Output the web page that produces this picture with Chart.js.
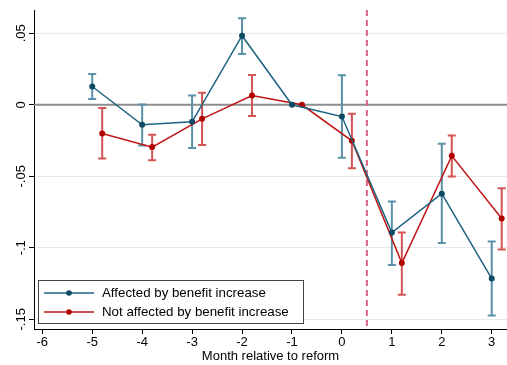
<!DOCTYPE html>
<html>
<head>
<meta charset="utf-8">
<script src="https://cdn.jsdelivr.net/npm/chart.js@4/dist/chart.umd.min.js"></script>
<style>
  html, body { margin: 0; padding: 0; background: #fff; }
  #wrap { width: 507px; height: 365px; }
</style>
</head>
<body>
<div id="wrap"><canvas id="c" width="507" height="365"></canvas></div>
<script>
// Event-study estimates by month relative to the reform
const months = [-5, -4, -3, -2, -1, 0, 1, 2, 3];
const redOffset = 0.2; // second series drawn slightly to the right

const affectedEst   = [0.0128, -0.0140, -0.0119, 0.0483, 0.0000, -0.0082, -0.0893, -0.0622, -0.1215];
const affectedLow   = [0.0040, -0.0285, -0.0303, 0.0355, null,   -0.0370, -0.1121, -0.0967, -0.1473];
const affectedHigh  = [0.0215,  0.0002,  0.0065, 0.0606, null,    0.0207, -0.0676, -0.0273, -0.0956];

const notAffEst     = [-0.0201, -0.0296, -0.0098, 0.0065, 0.0000, -0.0252, -0.1107, -0.0357, -0.0795];
const notAffLow     = [-0.0375, -0.0387, -0.0282, -0.0079, null,  -0.0443, -0.1329, -0.0501, -0.1012];
const notAffHigh    = [-0.0023, -0.0210,  0.0084,  0.0208, null,  -0.0063, -0.0893, -0.0215, -0.0583];

const xTicks = [-6, -5, -4, -3, -2, -1, 0, 1, 2, 3];
const yTicks = [-0.15, -0.1, -0.05, 0, 0.05];
const yTickLabels = ['-.15', '-.1', '-.05', '0', '.05'];
const reformLine = 0.5;

const seriesNames = ['Affected by benefit increase', 'Not affected by benefit increase'];
const FONT = '"Liberation Sans", Arial, Helvetica, sans-serif';

const blue = { line: '#1d6382', point: '#0d4a66', bar: '#5a90a8' };
const red  = { line: '#c01414', point: '#b00000', bar: '#d35454' };

const toPoints = (xs, ys, off) => xs.map((x, i) => ({ x: x + off, y: ys[i] }));

// Reference lines, CIs, rotated y labels and the legend box
const decorations = {
  id: 'decorations',
  beforeDatasetsDraw(chart) {
    const { ctx, chartArea: a, scales: { x, y } } = chart;
    ctx.save();
    // zero line
    const y0 = y.getPixelForValue(0);
    ctx.strokeStyle = '#8c8c8c';
    ctx.lineWidth = 2;
    ctx.beginPath(); ctx.moveTo(a.left, y0); ctx.lineTo(a.right, y0); ctx.stroke();
    // reform line
    const xr = x.getPixelForValue(reformLine);
    ctx.strokeStyle = '#db6485';
    ctx.lineWidth = 2;
    ctx.setLineDash([6, 4]);
    ctx.beginPath(); ctx.moveTo(xr, a.top); ctx.lineTo(xr, a.bottom); ctx.stroke();
    ctx.setLineDash([]);
    // confidence intervals
    const caps = (off, lo, hi, col) => {
      ctx.strokeStyle = col;
      ctx.lineWidth = 2;
      months.forEach((m, i) => {
        if (lo[i] == null) return;
        const px = x.getPixelForValue(m + off);
        const pl = y.getPixelForValue(lo[i]);
        const ph = y.getPixelForValue(hi[i]);
        ctx.beginPath();
        ctx.moveTo(px, pl); ctx.lineTo(px, ph);
        ctx.moveTo(px - 4, pl); ctx.lineTo(px + 4, pl);
        ctx.moveTo(px - 4, ph); ctx.lineTo(px + 4, ph);
        ctx.stroke();
      });
    };
    caps(0, affectedLow, affectedHigh, blue.bar);
    caps(redOffset, notAffLow, notAffHigh, red.bar);
    ctx.restore();
  },
  afterDraw(chart) {
    const { ctx, scales: { y } } = chart;
    ctx.save();
    // vertical y tick labels
    ctx.fillStyle = '#000';
    ctx.font = '13px ' + FONT;
    ctx.textAlign = 'center';
    ctx.textBaseline = 'middle';
    yTicks.forEach((v, i) => {
      const py = y.getPixelForValue(v);
      ctx.save();
      ctx.translate(21, py);
      ctx.rotate(-Math.PI / 2);
      ctx.fillText(yTickLabels[i], 0, 0);
      ctx.restore();
    });
    // legend
    const bx = 38.5, by = 280.5, bw = 265, bh = 43;
    ctx.fillStyle = '#fff';
    ctx.fillRect(bx, by, bw, bh);
    ctx.strokeStyle = '#444';
    ctx.lineWidth = 1;
    ctx.strokeRect(bx, by, bw, bh);
    const rows = [{ c: blue, y: 293 }, { c: red, y: 312 }];
    rows.forEach((r, i) => {
      ctx.strokeStyle = r.c.line;
      ctx.lineWidth = 1.5;
      ctx.beginPath(); ctx.moveTo(44, r.y); ctx.lineTo(94, r.y); ctx.stroke();
      ctx.fillStyle = r.c.point;
      ctx.beginPath(); ctx.arc(69, r.y, 2.8, 0, Math.PI * 2); ctx.fill();
      ctx.fillStyle = '#000';
      ctx.textAlign = 'left';
      ctx.font = '13.3px ' + FONT;
      ctx.fillText(chart.data.datasets[i].label, 102, r.y);
    });
    ctx.restore();
  }
};

new Chart(document.getElementById('c'), {
  type: 'line',
  data: {
    datasets: [
      {
        label: seriesNames[0],
        data: toPoints(months, affectedEst, 0),
        borderColor: blue.line,
        backgroundColor: blue.point,
        pointBackgroundColor: blue.point,
        pointBorderWidth: 0,
        pointRadius: 3,
        borderWidth: 1.5,
        tension: 0
      },
      {
        label: seriesNames[1],
        data: toPoints(months, notAffEst, redOffset),
        borderColor: red.line,
        backgroundColor: red.point,
        pointBackgroundColor: red.point,
        pointBorderWidth: 0,
        pointRadius: 3,
        borderWidth: 1.5,
        tension: 0
      }
    ]
  },
  options: {
    responsive: false,
    animation: false,
    layout: { autoPadding: false, padding: { top: 10, right: 0, left: 0, bottom: 0 } },
    plugins: { legend: { display: false }, tooltip: { enabled: false } },
    scales: {
      x: {
        type: 'linear',
        min: -6.166,
        max: 3.306,
        afterBuildTicks: s => { s.ticks = xTicks.map(v => ({ value: v })); },
        afterFit: s => { s.height = 36; s.paddingLeft = 0; s.paddingRight = 0; },
        grid: { display: true, drawOnChartArea: false, tickLength: 5, tickColor: '#000', tickWidth: 1 },
        border: { color: '#000', width: 1 },
        ticks: {
          color: '#000',
          font: { family: FONT, size: 13 },
          padding: 1,
          maxRotation: 0,
          callback: v => String(v)
        },
        title: {
          display: true,
          text: 'Month relative to reform',
          color: '#000',
          font: { family: FONT, size: 13 },
          padding: { top: 0, bottom: 1 }
        }
      },
      y: {
        type: 'linear',
        min: -0.1568,
        max: 0.0663,
        afterBuildTicks: s => { s.ticks = yTicks.map(v => ({ value: v })); },
        afterFit: s => { s.width = 34; },
        grid: {
          color: '#e3ecf0',
          lineWidth: 1,
          tickLength: 5,
          tickColor: '#000',
          tickWidth: 1
        },
        border: { color: '#000', width: 1 },
        ticks: { display: false }
      }
    }
  },
  plugins: [decorations]
});
</script>
</body>
</html>
